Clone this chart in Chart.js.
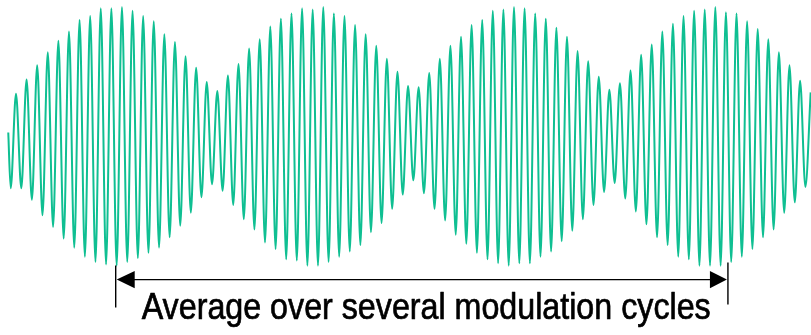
<!DOCTYPE html>
<html>
<head>
<meta charset="utf-8">
<title>Average over several modulation cycles</title>
<script src="https://cdn.jsdelivr.net/npm/chart.js@4/dist/chart.umd.min.js"></script>
<style>
    html, body { margin: 0; padding: 0; background: #fff; overflow: hidden; }
    canvas { display: block; }
</style>
</head>
<body>
<canvas id="wave" width="811" height="335"></canvas>
<script>
// peaks of the carrier, one top and one bottom per carrier cycle (1 = full envelope)
const tops = [
    0.33, 0.44, 0.55, 0.65, 0.74, 0.81, 0.90, 0.93, 0.99, 0.99, 1.00, 0.97, 0.93, 0.89, 0.79, 0.73, 0.62, 0.53, 0.42,
    0.35, 0.47, 0.56, 0.68, 0.75, 0.85, 0.91, 0.95, 0.99, 0.98, 1.00, 0.95, 0.93, 0.86, 0.79, 0.70, 0.60, 0.50, 0.39,
    0.38, 0.49, 0.60, 0.70, 0.77, 0.86, 0.90, 0.97, 0.98, 1.00, 0.99, 0.95, 0.91, 0.84, 0.77, 0.66, 0.58, 0.46, 0.36,
    0.41, 0.51, 0.63, 0.71, 0.81, 0.87, 0.93, 0.97, 0.98, 1.00, 0.96, 0.95, 0.89, 0.83, 0.75, 0.65, 0.55, 0.43, 0.34
]
const bottoms = [
    -0.40, -0.40, -0.49, -0.61, -0.70, -0.79, -0.86, -0.93, -0.97, -0.99, -1.00, -0.97, -0.94, -0.90, -0.86, -0.78, -0.69, -0.59, -0.47,
    -0.37, -0.42, -0.53, -0.64, -0.72, -0.82, -0.87, -0.95, -0.96, -1.00, -1.00, -0.97, -0.93, -0.89, -0.84, -0.74, -0.67, -0.56, -0.45,
    -0.34, -0.44, -0.56, -0.65, -0.76, -0.83, -0.90, -0.95, -0.98, -1.00, -0.98, -0.98, -0.93, -0.89, -0.81, -0.73, -0.64, -0.53, -0.43,
    -0.36, -0.48, -0.58, -0.68, -0.78, -0.84, -0.93, -0.95, -1.00, -1.00, -1.00, -0.97, -0.93, -0.87, -0.78, -0.72, -0.59, -0.51, -0.39
]
// where the trace begins (in carrier cycles) and its value there
const startCycle = -0.73
const startValue = 0.03

const caption = 'Average over several modulation cycles'
// span of the averaging arrow, in carrier cycles
const spanFrom = 9.41
const spanTo = 67.19

const points = [{x: startCycle, y: startValue}]
tops.forEach((top, k) => {
    points.push({x: k - 0.5, y: bottoms[k]})
    points.push({x: k, y: top})
})

const spanArrow = {
    id: 'spanArrow',
    afterDraw: (chart) => {
        const ctx = chart.ctx
        const xs = chart.scales.x
        const left = xs.getPixelForValue(spanFrom)
        const right = xs.getPixelForValue(spanTo)
        const y = 279.6
        ctx.save()
        ctx.strokeStyle = '#000'
        ctx.fillStyle = '#000'
        ctx.lineWidth = 1.4
        // end ticks
        ctx.beginPath()
        ctx.moveTo(left, 265.5)
        ctx.lineTo(left, 307.5)
        ctx.moveTo(right, 262.5)
        ctx.lineTo(right, 304.5)
        ctx.stroke()
        // shaft
        ctx.beginPath()
        ctx.moveTo(left + 10, y)
        ctx.lineTo(right - 10, y)
        ctx.stroke()
        // heads
        ctx.beginPath()
        ctx.moveTo(left + 1, y)
        ctx.lineTo(left + 19, y - 8.7)
        ctx.lineTo(left + 19, y + 8.7)
        ctx.closePath()
        ctx.moveTo(right - 1, y)
        ctx.lineTo(right - 18, y - 8.7)
        ctx.lineTo(right - 18, y + 8.7)
        ctx.closePath()
        ctx.fill()
        // caption, squeezed to the width it has in the figure
        ctx.font = '37px "Liberation Sans Narrow", "Liberation Sans", Arial, sans-serif'
        ctx.textBaseline = 'alphabetic'
        ctx.textAlign = 'left'
        const w = ctx.measureText(caption).width
        ctx.translate(141.7, 319.3)
        ctx.scale(569 / w, 1)
        ctx.lineWidth = 0.7
        ctx.lineJoin = 'round'
        ctx.fillText(caption, 0, 0)
        ctx.strokeText(caption, 0, 0)
        ctx.restore()
    }
}

new Chart(document.getElementById('wave'), {
    type: 'line',
    data: {
        datasets: [{
            data: points,
            borderColor: '#0fbf92',
            borderWidth: 2,
            pointRadius: 0,
            cubicInterpolationMode: 'monotone',
            fill: false
        }]
    },
    options: {
        responsive: false,
        animation: false,
        devicePixelRatio: 1,
        layout: { padding: 0 },
        plugins: {
            legend: { display: false },
            tooltip: { enabled: false }
        },
        scales: {
            x: { type: 'linear', min: -1.51, max: 75.03, display: false },
            y: { min: -1.535, max: 1.054, display: false }
        }
    },
    plugins: [spanArrow]
})
</script>
</body>
</html>
